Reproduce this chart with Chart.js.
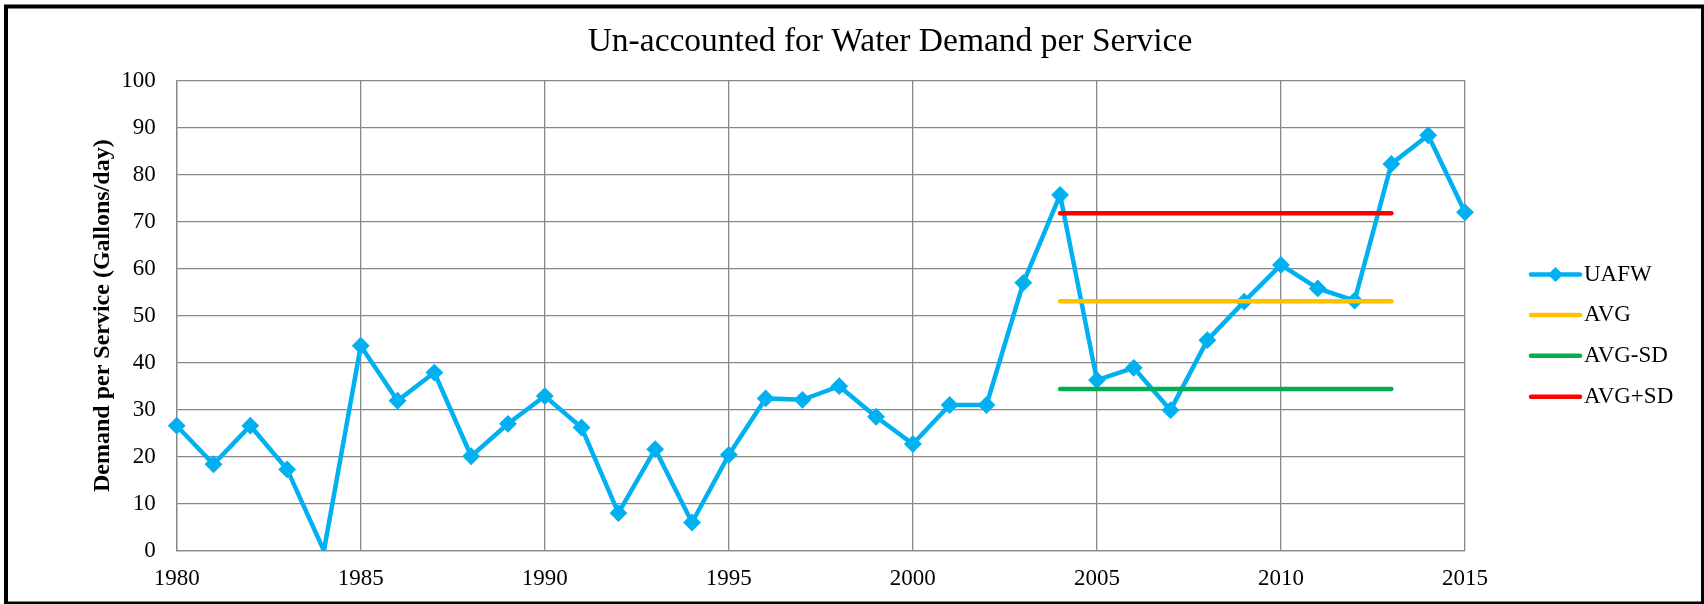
<!DOCTYPE html>
<html>
<head>
<meta charset="utf-8">
<script src="https://cdn.jsdelivr.net/npm/chart.js@4.4.0/dist/chart.umd.min.js"></script>
<style>
html,body{margin:0;padding:0;background:#fff;}
#wrap{width:1704px;height:604px;position:relative;}
canvas{display:block;}
</style>
</head>
<body>
<div id="wrap"><canvas id="c" width="1704" height="604"></canvas></div>
<script>
const chartTitle = 'Un-accounted for Water Demand per Service';
const yAxisTitle = 'Demand per Service (Gallons/day)';
const years = [1980,1981,1982,1983,1984,1985,1986,1987,1988,1989,1990,1991,1992,1993,1994,1995,1996,1997,1998,1999,2000,2001,2002,2003,2004,2005,2006,2007,2008,2009,2010,2011,2012,2013,2014,2015];
const uafw = [26.6,18.4,26.6,17.3,0,43.6,31.9,37.9,20.1,27.0,32.9,26.2,8.0,21.6,6.0,20.4,32.4,32.1,35.0,28.5,22.7,31.0,31.0,57.0,75.7,36.3,38.9,29.9,44.8,53.0,60.8,55.8,53.2,82.3,88.4,72.0];
const statYears = [2004, 2013];
const avg = 53.1;
const avgMinusSd = 34.4;
const avgPlusSd = 71.8;
const xTicks = [1980,1985,1990,1995,2000,2005,2010,2015];
const yTicks = [0,10,20,30,40,50,60,70,80,90,100];

const FAM = '"Liberation Serif", "Times New Roman", Times, serif';
const GRID = '#888888';

const uafwPts = years.map((y, i) => ({x: y, y: uafw[i]}));
const flat = v => statYears.map(y => ({x: y, y: v}));

const deco = {
  id: 'deco',
  afterDraw(chart) {
    const ctx = chart.ctx;
    ctx.save();
    // title
    ctx.fillStyle = '#000';
    ctx.font = '33.5px ' + FAM;
    ctx.textAlign = 'center';
    ctx.textBaseline = 'alphabetic';
    ctx.fillText(chartTitle, 890, 51);
    // legend
    const rows = [274.5, 315, 355.8, 396.7];
    chart.data.datasets.forEach((ds, i) => {
      const y = rows[i];
      ctx.strokeStyle = ds.borderColor;
      ctx.lineWidth = 4.5;
      ctx.lineCap = 'round';
      ctx.beginPath();
      ctx.moveTo(1531, y);
      ctx.lineTo(1580, y);
      ctx.stroke();
      if (ds.label === 'UAFW') {
        const r = 7.5;
        ctx.fillStyle = ds.borderColor;
        ctx.beginPath();
        ctx.moveTo(1555.5 - r, y);
        ctx.lineTo(1555.5, y - r);
        ctx.lineTo(1555.5 + r, y);
        ctx.lineTo(1555.5, y + r);
        ctx.closePath();
        ctx.fill();
      }
      ctx.fillStyle = '#000';
      ctx.font = '23px ' + FAM;
      ctx.textAlign = 'left';
      ctx.textBaseline = 'middle';
      ctx.fillText(ds.label, 1584, y);
    });
    // outer frame
    ctx.strokeStyle = '#000';
    ctx.lineWidth = 4;
    ctx.lineCap = 'butt';
    ctx.strokeRect(6, 6.5, 1697, 597);
    ctx.restore();
  }
};

new Chart(document.getElementById('c'), {
  type: 'line',
  data: {
    datasets: [
      {label: 'UAFW', data: uafwPts, borderColor: '#00B0F0', backgroundColor: '#00B0F0',
       borderWidth: 4.5, pointStyle: 'rectRot',
       pointRadius: c => (c.raw && c.raw.y <= 0) ? 0 : 7.5,
       pointBorderWidth: 2,
       pointBackgroundColor: '#00B0F0', pointBorderColor: '#00B0F0', tension: 0, order: 3,
       clip: {left: 12, right: 12, top: 12, bottom: 0}},
      {label: 'AVG', data: flat(avg), borderColor: '#FFC000', borderWidth: 4.5, pointRadius: 0,
       borderCapStyle: 'round', order: 2},
      {label: 'AVG-SD', data: flat(avgMinusSd), borderColor: '#00B050', borderWidth: 4.5, pointRadius: 0,
       borderCapStyle: 'round', order: 1},
      {label: 'AVG+SD', data: flat(avgPlusSd), borderColor: '#FF0000', borderWidth: 4.5, pointRadius: 0,
       borderCapStyle: 'round', order: 0}
    ]
  },
  options: {
    responsive: false,
    animation: false,
    devicePixelRatio: 1,
    layout: {padding: {top: 80.7, left: 0, right: 239, bottom: 0}},
    plugins: {legend: {display: false}, title: {display: false}, tooltip: {enabled: false}},
    scales: {
      x: {
        type: 'linear', min: xTicks[0], max: xTicks[xTicks.length - 1],
        afterBuildTicks(s) { s.ticks = xTicks.map(v => ({value: v})); },
        ticks: {callback: v => String(v), color: '#000', font: {family: FAM, size: 23},
                padding: 14, maxRotation: 0, autoSkip: false},
        grid: {color: GRID, lineWidth: 1.3, drawTicks: false},
        border: {color: GRID, width: 1.3},
        afterFit(s) { s.height = 53.3; }
      },
      y: {
        min: yTicks[0], max: yTicks[yTicks.length - 1],
        afterBuildTicks(s) { s.ticks = yTicks.map(v => ({value: v})); },
        ticks: {color: '#000', font: {family: FAM, size: 23}, padding: 21},
        grid: {color: GRID, lineWidth: 1.3, drawTicks: false},
        border: {color: GRID, width: 1.3},
        title: {display: true, text: yAxisTitle, color: '#000',
                font: {family: FAM, size: 24, weight: 'bold'}, padding: {top: 88, bottom: 0}},
        afterFit(s) { s.width = 176.7; }
      }
    }
  },
  plugins: [deco]
});
</script>
</body>
</html>
